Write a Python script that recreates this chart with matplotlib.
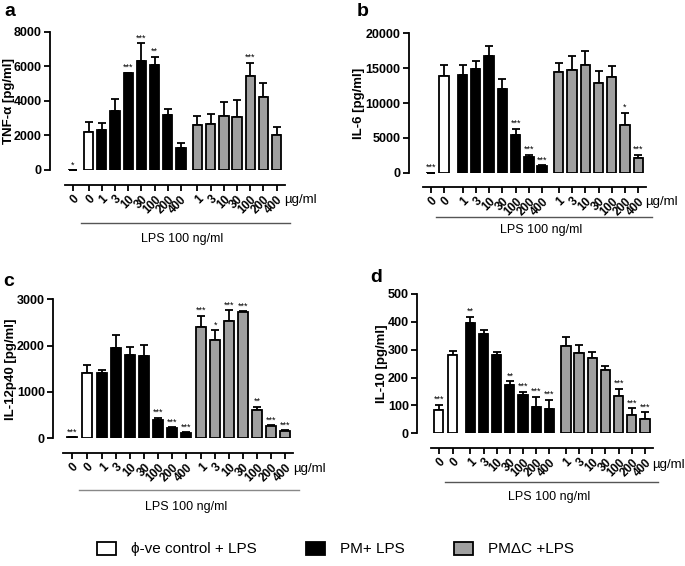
import numpy as np
import matplotlib.pyplot as plt
from matplotlib.patches import Patch
from matplotlib.transforms import blended_transform_factory

plt.rcParams['font.family'] = ['Liberation Sans', 'DejaVu Sans']

W, H = 685, 566

doses = ['0', '0', '1', '3', '10', '30', '100', '200', '400',
         '1', '3', '10', '30', '100', '200', '400']
colors = ['white', 'white'] + ['black'] * 7 + ['#a0a0a0'] * 7

# TNF-alpha
tnf = [0, 2200, 2300, 3400, 5600, 6300, 6100, 3200, 1250,
       2600, 2650, 3100, 3050, 5450, 4250, 2000]
tnf_err = [0, 600, 400, 700, 30, 1050, 450, 350, 300,
           550, 600, 850, 1000, 750, 800, 500]
tnf_sig = ['*', '', '', '', '***', '***', '**', '', '',
           '', '', '', '', '***', '', '']

# IL-6
il6 = [0, 13900, 14000, 14900, 16700, 12000, 5400, 2300, 900,
       14500, 14700, 15400, 12800, 13800, 6800, 2100]
il6_err = [0, 1500, 1500, 1100, 1500, 1500, 900, 300, 150,
           1300, 2000, 2100, 1800, 1500, 1800, 500]
il6_sig = ['***', '', '', '', '', '', '***', '***', '***',
           '', '', '', '', '', '*', '***']

# IL-12p40
il12 = [20, 1400, 1400, 1950, 1800, 1770, 400, 230, 120,
        2400, 2120, 2540, 2720, 610, 270, 150]
il12_err = [0, 190, 70, 280, 160, 240, 40, 10, 10,
            250, 210, 230, 20, 70, 10, 20]
il12_sig = ['***', '', '', '', '', '', '***', '***', '***',
            '***', '*', '***', '***', '**', '***', '***']

# IL-10
il10 = [85, 280, 397, 357, 282, 173, 137, 95, 87,
        313, 290, 270, 228, 133, 67, 53]
il10_err = [17, 17, 21, 13, 11, 14, 13, 37, 33,
            32, 26, 22, 14, 27, 23, 23]
il10_sig = ['***', '', '**', '', '', '**', '***', '***', '***',
            '', '', '', '', '***', '***', '***']

# geometry in px: (left spine, first tick, last tick, y of zero, y of top)
panels = [
    dict(v=tnf, e=tnf_err, s=tnf_sig, ylabel='TNF-\u03b1 [pg/ml]', yt=[0, 2000, 4000, 6000, 8000],
         geo=(50, 72.7, 276.7, 170, 31.7), gaps=(1.2, 1.0, 1.25), letter='a', lp=(4, 12),
         ylx=9, xax=185, ug=200, lps=223, lpst=239, lcol='#555555'),
    dict(v=il6, e=il6_err, s=il6_sig, ylabel='IL-6 [pg/ml]', yt=[0, 5000, 10000, 15000, 20000],
         geo=(409, 430.7, 638.3, 172.7, 33.3), gaps=(1.0, 1.4, 1.25), letter='b', lp=(357, 12),
         ylx=359, xax=187, ug=202, lps=217, lpst=230, lcol='#555555'),
    dict(v=il12, e=il12_err, s=il12_sig, ylabel='IL-12p40 [pg/ml]', yt=[0, 1000, 2000, 3000],
         geo=(53.3, 71.7, 285, 438.3, 299.3), gaps=(1.1, 1.1, 1.1), letter='c', lp=(3, 282),
         ylx=11, xax=453, ug=469, lps=490, lpst=507, lcol='#888888'),
    dict(v=il10, e=il10_err, s=il10_sig, ylabel='IL-10 [pg/ml]', yt=[0, 100, 200, 300, 400, 500],
         geo=(417.3, 438.7, 645, 433.3, 294), gaps=(1.05, 1.35, 1.25), letter='d', lp=(370, 278),
         ylx=382, xax=448, ug=465, lps=482, lpst=497, lcol='#555555'),
]

fig = plt.figure(figsize=(W / 100, H / 100), dpi=100)

for p in panels:
    g0, g1, g2 = p['gaps']
    x = [0.0, g0, g0 + g1]
    for i in range(6):
        x.append(x[-1] + 1)
    x.append(x[-1] + g2)
    for i in range(6):
        x.append(x[-1] + 1)
    x = np.array(x)

    L, F, Lt, y0, ytop = p['geo']
    u = (Lt - F) / x[-1]
    right = Lt + 0.6 * u
    ax = fig.add_axes([L / W, 1 - y0 / H, (right - L) / W, (y0 - ytop) / H])
    ax.set_xlim(-(F - L) / u, x[-1] + 0.6)
    ax.set_ylim(0, p['yt'][-1])

    ax.bar(x, p['v'], width=0.7, color=colors, edgecolor='black', linewidth=1.3, zorder=2)
    ax.errorbar(x, p['v'], yerr=[np.zeros(len(x)), p['e']], fmt='none', ecolor='black',
                elinewidth=1.3, capsize=3, capthick=1.3, zorder=1, clip_on=False)
    for xi, v, e, s in zip(x, p['v'], p['e'], p['s']):
        if s:
            ax.annotate(s, (xi, v + e), xytext=(0, 0.5), textcoords='offset points',
                        ha='center', va='bottom', fontsize=6.5, annotation_clip=False)

    for sp in ['top', 'right']:
        ax.spines[sp].set_visible(False)
    ax.spines['left'].set_linewidth(1.3)
    ax.spines['bottom'].set_linewidth(1.3)
    off = (p['xax'] - y0) * 72 / 100
    ax.spines['bottom'].set_position(('outward', off))
    ax.spines['bottom'].set_bounds(x[0] - 0.6, x[-1] + 0.6)

    ax.set_yticks(p['yt'])
    ax.set_yticklabels([str(t) for t in p['yt']], fontweight='bold', fontsize=9)
    ax.set_xticks(x)
    ax.set_xticklabels(doses, rotation=45, ha='right', va='top', rotation_mode='anchor',
                       fontweight='bold', fontsize=8.5)
    ax.tick_params(axis='both', width=1.3, length=4, pad=2)
    ax.set_ylabel(p['ylabel'], fontweight='bold', fontsize=9.5, va='center')
    awid = right - L
    ax.yaxis.set_label_coords((p['ylx'] - L) / awid, 0.5)

    hgt = y0 - ytop
    tr = blended_transform_factory(ax.transData, ax.transAxes)
    ax.text(x[-1] + 0.55, (y0 - p['ug']) / hgt, '\u00b5g/ml', transform=tr, fontsize=9.5,
            ha='left', va='center')
    ax.plot([x[1] - 0.6, x[-1] + 1.0], [(y0 - p['lps']) / hgt] * 2, transform=tr,
            color=p['lcol'], lw=1.0, clip_on=False)
    ax.text((x[1] + x[-1]) / 2, (y0 - p['lpst']) / hgt, 'LPS 100 ng/ml', transform=tr,
            fontsize=9, ha='center', va='center')

    fig.text(p['lp'][0] / W, 1 - p['lp'][1] / H, p['letter'], fontsize=14,
             fontweight='bold', ha='left', va='center')

handles = [Patch(facecolor='white', edgecolor='black', linewidth=1.3),
           Patch(facecolor='black', edgecolor='black', linewidth=1.3),
           Patch(facecolor='#a0a0a0', edgecolor='black', linewidth=1.3)]
labels = ['\u03d5-ve control + LPS', 'PM+ LPS', 'PM\u0394C +LPS']
fig.legend(handles, labels, ncol=3, loc='center', bbox_to_anchor=(0.49, 1 - 549 / H),
           frameon=False, fontsize=11, handlelength=1.25, handleheight=0.95,
           columnspacing=3.2, handletextpad=1.0)

fig.savefig('out.png', dpi=100)
